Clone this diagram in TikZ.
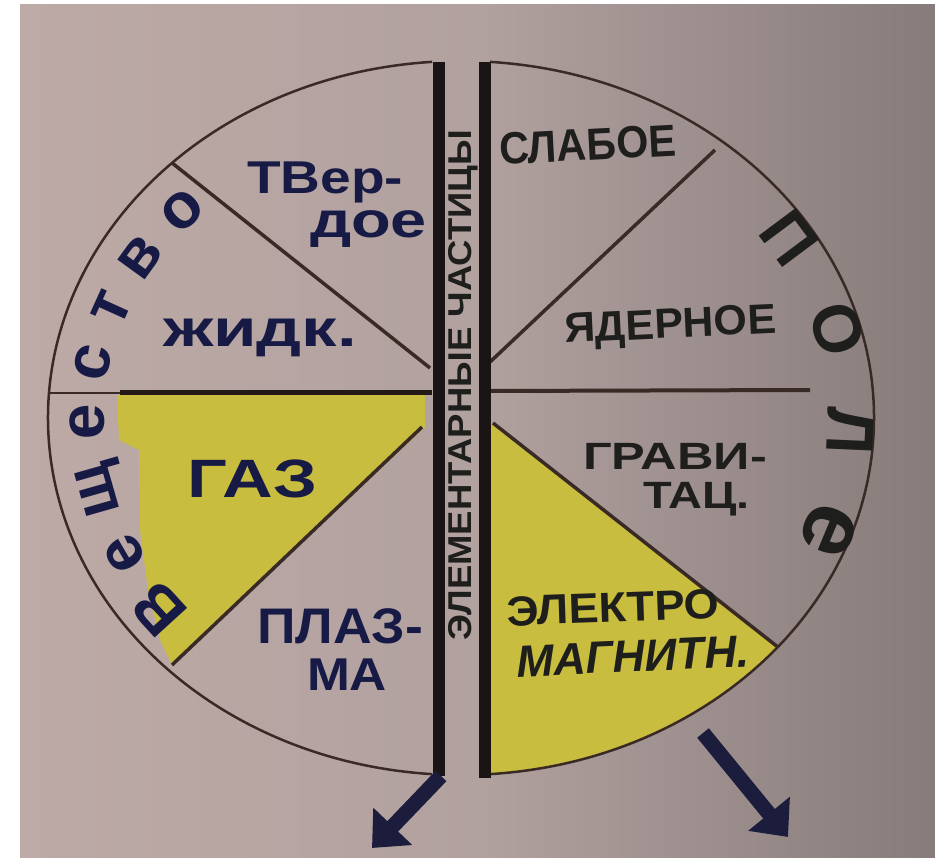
\documentclass[tikz,border=0pt]{standalone}
\usepackage{fontspec}
\setmainfont{Liberation Sans}
\usetikzlibrary{arrows.meta,decorations.text}
\definecolor{bgL}{HTML}{BDAAA6}
\definecolor{bgM}{HTML}{B1A19F}
\definecolor{bgR}{HTML}{877C7B}
\definecolor{yel}{HTML}{C8BD3E}
\definecolor{navy}{HTML}{171A45}
\definecolor{ink}{HTML}{1E1E1C}
\definecolor{pen}{HTML}{3A2A26}
\definecolor{bar}{HTML}{1A1414}
\definecolor{arrowc}{HTML}{1C1D3D}
\newcommand\fw[2]{\resizebox{#1pt}{\height}{#2}}
\newcommand\fs[1]{\fontsize{#1}{#1}\selectfont}
\begin{document}
\begin{tikzpicture}[x=1pt,y=1pt,
  lbl/.style={inner sep=0pt,outer sep=0pt,font=\bfseries,anchor=base west},
  lefttext/.style={lbl,text=navy},
  righttext/.style={lbl,text=ink},
  rim/.style={draw=pen,line width=2.5pt},
  radial/.style={draw=pen,line width=3.5pt},
  barline/.style={draw=bar,line width=12pt},
  bigarrow/.style={draw=arrowc,line width=15pt,-{Triangle[length=30pt,width=52pt]}}]
\useasboundingbox (0,0) rectangle (935,-858);
\fill[white] (0,0) rectangle (935,-858);
\shade[left color=bgL,right color=bgR,middle color=bgM] (20,-5) rectangle (935,-858);
% yellow sectors
\fill[yel] (117,-395) -- (425,-395) -- (425,-427) -- (172,-665) -- (160,-640) -- (148,-590) -- (140,-530) -- (139,-450) -- (119,-440) -- cycle;
\fill[yel] (491,-423) -- ([shift={(461,-418)}]-39.9:413pt and 357pt) arc[start angle=-39.9,end angle=-86,x radius=413pt,y radius=357pt] -- cycle;
% circle halves
\draw[rim] ([shift={(461,-418)}]94:413pt and 357pt) arc[start angle=94,end angle=266,x radius=413pt,y radius=357pt];
\draw[rim] ([shift={(461,-418)}]86:413pt and 357pt) arc[start angle=86,end angle=-86,x radius=413pt,y radius=357pt];
% sector lines
\draw[radial] ([shift={(461,-418)}]134.4:413pt and 357pt) -- (430,-368);
\draw[radial] (422,-427) -- (172,-665);
\draw[radial] (490,-362) -- (715,-150);
\draw[radial] (493,-423) -- ([shift={(461,-418)}]-39.9:413pt and 357pt);
\draw[draw=pen,line width=2pt] (48,-393) -- (432,-393);
\draw[draw=pen!60!black,line width=5pt] (120,-393) -- (432,-393);
\draw[draw=pen,line width=4pt] (490,-391) -- (810,-390);
% central bars
\draw[barline] (439,-62) -- (439,-776);
\draw[barline] (485,-62) -- (485,-778);
% left labels
\node[lefttext] (tver) at (247,-194) {\fs{46}\fw{156}{ТВер-}};
\node[lefttext] (doe) at (310,-238) {\fs{50}\fw{117}{дое}};
\node[lefttext] (zhidk) at (163,-347) {\fs{52}\fw{194}{жидк.}};
\node[lefttext] (gaz) at (187,-497) {\fs{54}\fw{130}{ГАЗ}};
\node[lefttext] (plaz) at (257,-643) {\fs{50}\fw{166}{ПЛАЗ-}};
\node[lefttext] (ma) at (307,-690) {\fs{46}\fw{80}{МА}};
% right labels
\node[righttext,rotate=3] (slab) at (500,-165) {\fs{45}\fw{177}{СЛАБОЕ}};
\node[righttext,rotate=2.7] (yad) at (565,-343) {\fs{42}\fw{212}{ЯДЕРНОЕ}};
\node[righttext] (grav) at (583,-470) {\fs{38}\fw{184}{ГРАВИ-}};
\node[righttext] (tac) at (643,-508) {\fs{38}\fw{107}{ТАЦ.}};
\node[righttext,rotate=2] (elek) at (507,-626) {\fs{42}\fw{213}{ЭЛЕКТРО}};
\node[righttext,rotate=2.5] (magn) at (517,-677) {\fs{45}\fw{233}{\itshape МАГНИТН.}};
% centre label
\node[inner sep=0pt,font=\bfseries,text=ink,rotate=90] (elem) at (463,-385) {\fs{33}\fw{510}{ЭЛЕМЕНТАРНЫЕ ЧАСТИЦЫ}};
% curved words
\path[color=navy,decorate,decoration={text along path,text={|\fs{64}\bfseries\color{navy}|Вещество},text align=fit to path}]
  ([shift={(461,-418)}]221:357pt and 294pt) arc[start angle=221,end angle=135,x radius=357pt,y radius=294pt];
\path[color=ink,decorate,decoration={text along path,text={|\fs{67}\bfseries\color{ink}|ПОЛ|\fs{92}\bfseries\color{ink}|е},text align=fit to path}]
  ([shift={(461,-418)}]36.5:367pt and 311pt) arc[start angle=36.5,end angle=-24,x radius=367pt,y radius=311pt];
% arrows
\coordinate (la1) at (441,-776);
\coordinate (la2) at (372,-848);
\coordinate (ra1) at (703,-733);
\coordinate (ra2) at (788,-837);
\draw[bigarrow] (la1) -- (la2);
\draw[bigarrow] (ra1) -- (ra2);
\end{tikzpicture}
\end{document}
